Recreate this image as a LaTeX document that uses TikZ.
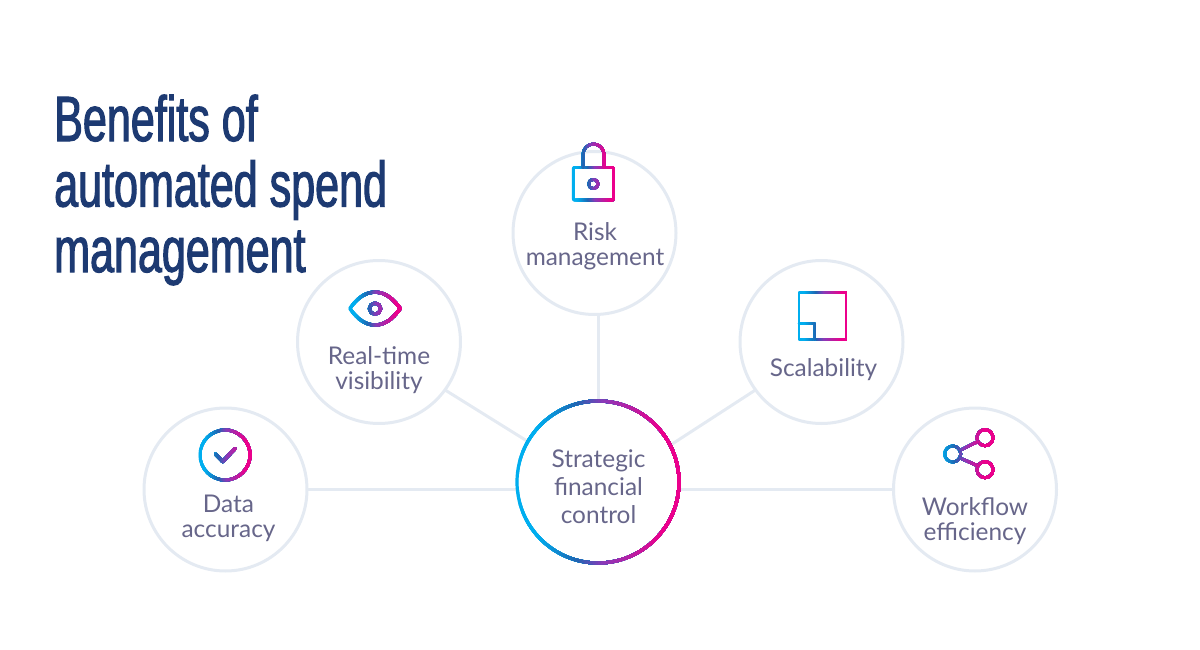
\documentclass[tikz,border=0pt]{standalone}
\usepackage{fontspec}
\setmainfont{Lato}
\newfontfamily\titlefont[FakeStretch=0.673,FakeBold=1.7]{Liberation Sans}
\definecolor{ringgray}{HTML}{E4EAF2}
\definecolor{labelcol}{HTML}{67668A}
\definecolor{titlecol}{HTML}{1D3A72}
\definecolor{gca}{HTML}{00AEEF}
\definecolor{gcb}{HTML}{1F66B2}
\definecolor{gcc}{HTML}{8A3AB9}
\definecolor{gcd}{HTML}{EC008C}
\newcommand{\setgradcol}[1]{%
  \pgfmathsetmacro{\tv}{#1}%
  \pgfmathparse{\tv<0.12?0:(\tv<0.36?1:(\tv<0.52?2:(\tv<0.88?3:4)))}%
  \ifcase\numexpr\pgfmathresult\relax\colorlet{gc}{gca}%
  \or\pgfmathsetmacro{\pc}{(\tv-0.12)/0.24*100}\colorlet{gc}{gcb!\pc!gca}%
  \or\pgfmathsetmacro{\pc}{(\tv-0.36)/0.16*100}\colorlet{gc}{gcc!\pc!gcb}%
  \or\pgfmathsetmacro{\pc}{(\tv-0.52)/0.36*100}\colorlet{gc}{gcd!\pc!gcc}%
  \else\colorlet{gc}{gcd}\fi}
% #1 x start, #2 x end, #3 line width, #4 path
\newcommand{\gradstroke}[4]{%
  \foreach \i in {0,...,60}{%
    \pgfmathsetmacro{\xs}{#1+(#2-#1)*\i/60-(\i==0?6:0)}%
    \setgradcol{\i/60}%
    \begin{scope}
      \clip (\xs,0) rectangle (1200,650);
      \draw[gc,line width=#3,line cap=round,line join=round] #4;
    \end{scope}}}
\tikzset{
  x=1pt,y=-1pt,
  petal/.style={circle,draw=ringgray,line width=3pt,minimum size=163pt,inner sep=0pt,outer sep=0pt,fill=white},
  hub/.style={circle,minimum size=163pt,inner sep=0pt,outer sep=0pt,fill=white},
  lbl/.style={text=labelcol,align=center,inner sep=0pt,font=\fontsize{24.4}{25}\selectfont},
  hublbl/.style={lbl,font=\fontsize{24.4}{28}\selectfont},
  spoke/.style={draw=ringgray,line width=3pt},
}
\begin{document}
\begin{tikzpicture}
\useasboundingbox (0,0) rectangle (1200,650);
\node[anchor=base west,inner sep=0pt,text=titlecol,align=left,font=\titlefont\fontsize{64}{65.5}\selectfont] (title) at (54,272) {Benefits of\\automated spend\\management};
\node[petal] (risk) at (594.5,233) {};
\node[petal] (vis) at (379,342) {};
\node[petal] (scal) at (821.5,342) {};
\node[petal] (data) at (225.5,489.5) {};
\node[petal] (flow) at (975,489.5) {};
\node[hub] (hub) at (598,482) {};
\node[hublbl] (hubtxt) at (598.5,487) {Strategic\\financial\\control};
\node[lbl] (risktxt) at (595,246) {Risk\\management};
\node[lbl] (vistxt) at (379,370) {Real-time\\visibility};
\node[lbl] (scaltxt) at (823.5,370) {Scalability};
\node[lbl] (datatxt) at (228.5,518.5) {Data\\accuracy};
\node[lbl] (flowtxt) at (975,521) {Workflow\\efficiency};
\draw[spoke] (hub.north) -- (hub.north |- risk.south);
\draw[spoke] (vis.-36) -- (hub.150);
\draw[spoke] (scal.216) -- (hub.27);
\draw[spoke] (data.east) -- (data.east -| hub.west);
\draw[spoke] (flow.west) -- (flow.west -| hub.east);
% hub ring
\gradstroke{516}{680}{3.2}{(598,482) circle[radius=81]}
% lock
\gradstroke{572}{615}{2.8}{[rounded corners=1pt] (573.2,167.5) rectangle (613.5,200)}
\gradstroke{567}{611}{2.8}{(583,167.5) -- (583,154.5) arc[start angle=180,end angle=360,radius=10.5] -- (604,167.5)}
\gradstroke{572}{615}{2.8}{(593.3,184) circle[radius=4.7]}
% eye
\gradstroke{348}{402}{3.2}{(349.8,308.5) .. controls (358,297) and (366,292.2) .. (375,292.2) .. controls (384,292.2) and (392,297) .. (400.2,308.5) .. controls (392,320) and (384,325) .. (375,325) .. controls (366,325) and (358,320) .. cycle}
\gradstroke{348}{402}{3.2}{(375,308.7) circle[radius=5.6]}
% scale
\gradstroke{798}{847}{2.8}{(799,292.5) rectangle (846,339.5)}
\gradstroke{798}{847}{2.8}{(799,323.5) -- (814.5,323.5) -- (814.5,339.5)}
% check
\gradstroke{198}{252}{3}{(225,455) circle[radius=25]}
\gradstroke{198}{252}{3.5}{(215.5,454) -- (222.7,461.5) -- (235,448.5)}
% workflow
\gradstroke{934}{990}{2.8}{(952.7,454) circle[radius=8]}
\gradstroke{934}{990}{2.8}{(985,437.7) circle[radius=8]}
\gradstroke{934}{990}{2.8}{(985,469.7) circle[radius=8]}
\gradstroke{934}{990}{2.8}{(960,450.3) -- (977.5,441.7)}
\gradstroke{934}{990}{2.8}{(960,458) -- (977.5,465.7)}
\end{tikzpicture}
\end{document}
